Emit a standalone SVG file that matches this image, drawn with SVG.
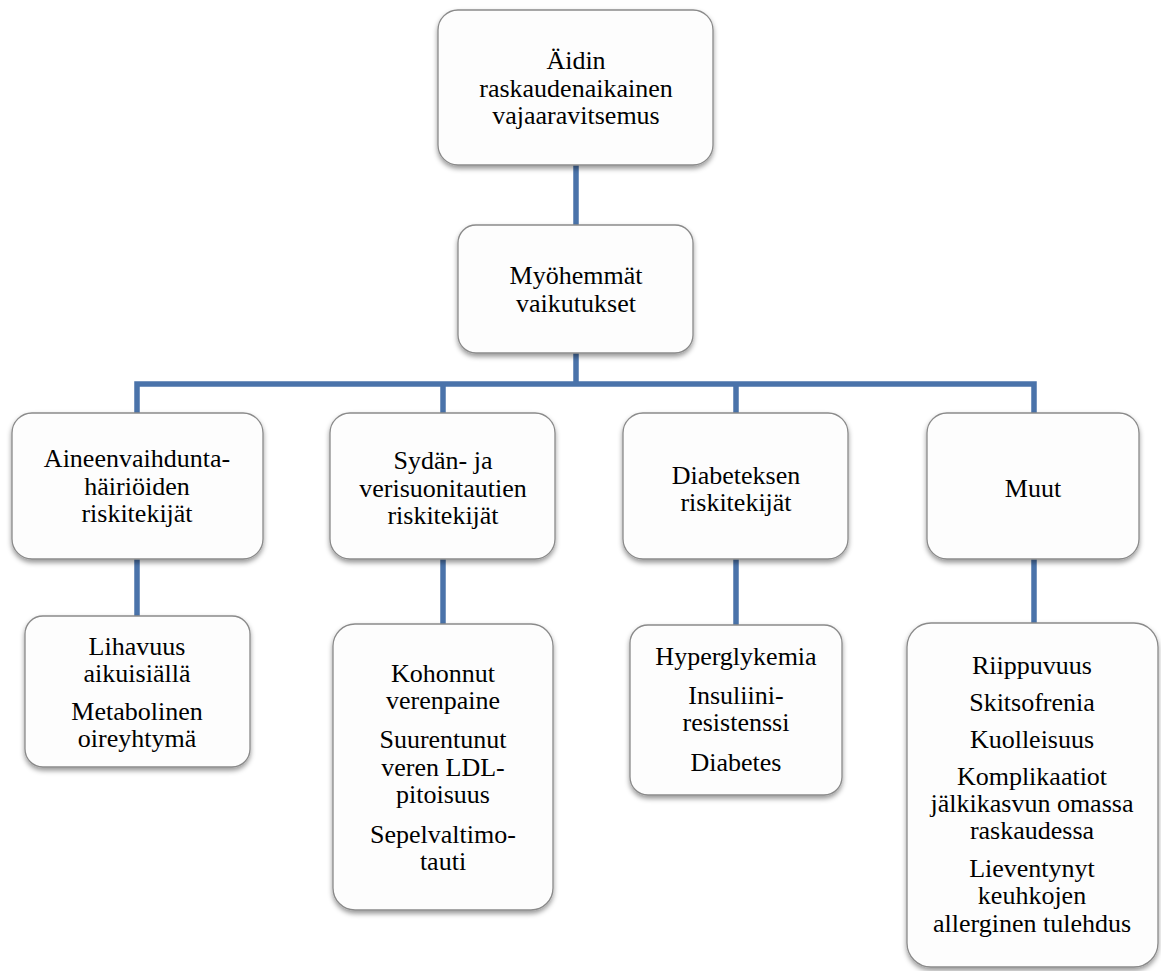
<svg xmlns="http://www.w3.org/2000/svg" width="1161" height="971" viewBox="0 0 1161 971">
  <style>
    .box { fill: #fdfdfd; stroke: #8a8a8a; stroke-width: 1.3; filter: url(#shadow); }
    .link { fill: none; stroke: #4a73aa; stroke-width: 5.5; stroke-linejoin: miter; stroke-linecap: butt; }
    text { font-family: 'Liberation Serif', 'Times New Roman', serif; font-size: 26px; fill: #000; text-anchor: middle; }
  </style>
  <defs>
    <filter id="shadow" x="-10%" y="-10%" width="120%" height="130%">
      <feDropShadow dx="0" dy="3" stdDeviation="2.5" flood-color="#000" flood-opacity="0.4"/>
    </filter>
  </defs>
  <rect width="1161" height="971" fill="#ffffff"/>

  <!-- connectors -->
  <g id="connectors">
    <path class="link" d="M576 165 V225"/>
    <path class="link" d="M576 353 V384"/>
    <path class="link" d="M137 413 V384 H1034 V413"/>
    <path class="link" d="M443 384 V413"/>
    <path class="link" d="M736 384 V413"/>
    <path class="link" d="M137 559 V616"/>
    <path class="link" d="M443 559 V624"/>
    <path class="link" d="M736 559 V625"/>
    <path class="link" d="M1034 559 V623"/>
  </g>

  <!-- root -->
  <g id="node-root">
    <rect class="box" x="438" y="10" width="275" height="155" rx="20"/>
    <text x="576" y="69">Äidin</text>
    <text x="576" y="97">raskaudenaikainen</text>
    <text x="576" y="124">vajaaravitsemus</text>
  </g>

  <g id="node-effects">
    <rect class="box" x="458" y="225" width="235" height="128" rx="18"/>
    <text x="576" y="284">Myöhemmät</text>
    <text x="576" y="312">vaikutukset</text>
  </g>

  <!-- second level -->
  <g id="node-metabolic">
    <rect class="box" x="12" y="413" width="251" height="146" rx="20"/>
    <text x="137" y="467">Aineenvaihdunta-</text>
    <text x="137" y="495">häiriöiden</text>
    <text x="137" y="522">riskitekijät</text>
  </g>

  <g id="node-cardio">
    <rect class="box" x="330" y="413" width="225" height="146" rx="20"/>
    <text x="443" y="469">Sydän- ja</text>
    <text x="443" y="497">verisuonitautien</text>
    <text x="443" y="524">riskitekijät</text>
  </g>

  <g id="node-diabetes">
    <rect class="box" x="623" y="413" width="225" height="146" rx="20"/>
    <text x="736" y="484">Diabeteksen</text>
    <text x="736" y="511">riskitekijät</text>
  </g>

  <g id="node-other">
    <rect class="box" x="927" y="413" width="212" height="146" rx="20"/>
    <text x="1033" y="497">Muut</text>
  </g>

  <!-- third level -->
  <g id="node-metabolic-items">
    <rect class="box" x="25" y="616" width="225" height="151" rx="18"/>
    <text x="137" y="655">Lihavuus</text>
    <text x="137" y="682">aikuisiällä</text>
    <text x="137" y="720">Metabolinen</text>
    <text x="137" y="747">oireyhtymä</text>
  </g>

  <g id="node-cardio-items">
    <rect class="box" x="333" y="624" width="220" height="286" rx="22"/>
    <text x="443" y="682">Kohonnut</text>
    <text x="443" y="709">verenpaine</text>
    <text x="443" y="748">Suurentunut</text>
    <text x="443" y="776">veren LDL-</text>
    <text x="443" y="803">pitoisuus</text>
    <text x="443" y="843">Sepelvaltimo-</text>
    <text x="443" y="870">tauti</text>
  </g>

  <g id="node-diabetes-items">
    <rect class="box" x="630" y="625" width="212" height="170" rx="18"/>
    <text x="736" y="665">Hyperglykemia</text>
    <text x="736" y="704">Insuliini-</text>
    <text x="736" y="731">resistenssi</text>
    <text x="736" y="771">Diabetes</text>
  </g>

  <g id="node-other-items">
    <rect class="box" x="907" y="623" width="251" height="344" rx="24"/>
    <text x="1032" y="674">Riippuvuus</text>
    <text x="1032" y="711">Skitsofrenia</text>
    <text x="1032" y="748">Kuolleisuus</text>
    <text x="1032" y="785">Komplikaatiot</text>
    <text x="1032" y="812">jälkikasvun omassa</text>
    <text x="1032" y="839">raskaudessa</text>
    <text x="1032" y="877">Lieventynyt</text>
    <text x="1032" y="904">keuhkojen</text>
    <text x="1032" y="932">allerginen tulehdus</text>
  </g>
</svg>
